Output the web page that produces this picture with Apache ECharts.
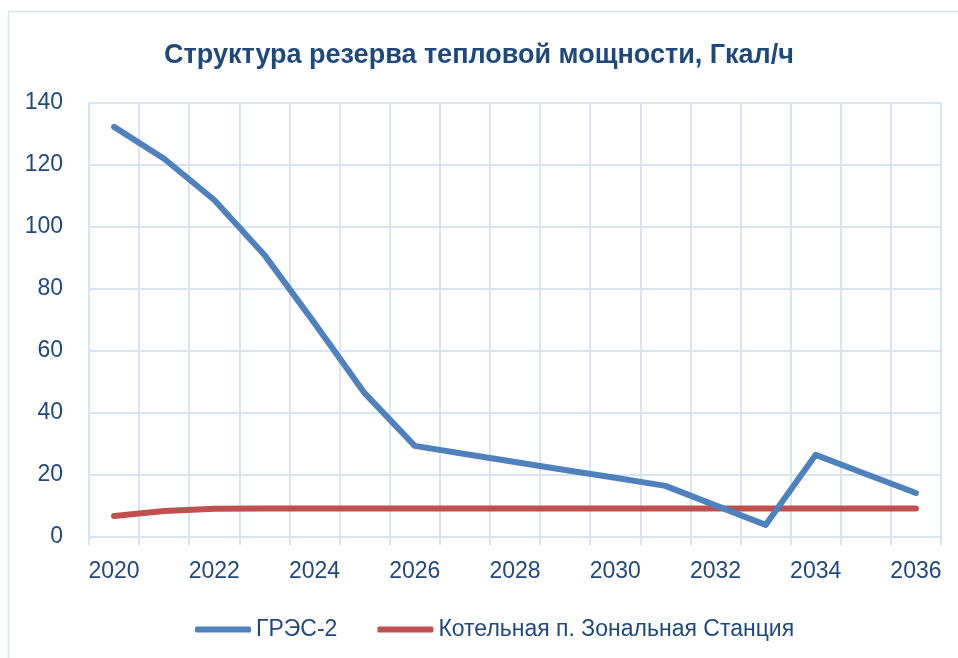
<!DOCTYPE html>
<html>
<head>
<meta charset="utf-8">
<script src="https://cdn.jsdelivr.net/npm/echarts@6/dist/echarts.min.js"></script>
<style>
  html, body { margin: 0; padding: 0; background: #fff; }
  #main { width: 958px; height: 658px; }
</style>
</head>
<body>
<div id="main"></div>
<script>
// годы и значения
var years = ['2020', '2021', '2022', '2023', '2024', '2025', '2026', '2027', '2028',
  '2029', '2030', '2031', '2032', '2033', '2034', '2035', '2036'];
var gres2 = [132.3, 122, 108.7, 91, 69, 46.4, 29.4, 26.8, 24.2, 21.6, 19.1, 16.5, 10.2, 3.9, 26.5, 20.3, 14.2];
var kotelnaya = [6.8, 8.4, 9.1, 9.2, 9.2, 9.2, 9.2, 9.2, 9.2, 9.2, 9.2, 9.2, 9.2, 9.2, 9.2, 9.2, 9.2];

var textColor = '#1F497D';
var gridColor = '#D9E4F3';
var font = '"Liberation Sans Narrow", "Arial Narrow", "Liberation Sans", sans-serif';

var chart = echarts.init(document.getElementById('main'), null, { renderer: 'canvas' });

var option = {
  backgroundColor: '#fff',
  animation: false,
  graphic: [
    {
      // рамка области диаграммы
      type: 'rect',
      shape: { x: 8.5, y: 11.5, width: 960, height: 660 },
      style: { fill: 'none', stroke: gridColor, lineWidth: 1.5 },
      silent: true
    }
  ],
  title: {
    text: 'Структура резерва тепловой мощности, Гкал/ч',
    left: 'center',
    top: 37,
    textStyle: {
      color: textColor,
      fontFamily: font,
      fontWeight: 'bold',
      fontSize: 27
    }
  },
  legend: {
    left: 190,
    top: 613,
    itemWidth: 56,
    itemHeight: 6,
    itemGap: 40,
    icon: 'roundRect',
    textStyle: { color: textColor, fontFamily: font, fontSize: 23 },
    data: ['ГРЭС-2', 'Котельная п. Зональная Станция']
  },
  grid: { left: 89, right: 17, top: 103, bottom: 121 },
  xAxis: {
    type: 'category',
    data: years,
    boundaryGap: true,
    axisLine: { show: true, lineStyle: { color: gridColor, width: 2 } },
    axisTick: { show: true, interval: 0, length: 8, lineStyle: { color: gridColor, width: 2 } },
    axisLabel: { interval: 1, margin: 23, color: textColor, fontFamily: font, fontSize: 23 },
    splitLine: { show: true, interval: 0, lineStyle: { color: gridColor, width: 2 } }
  },
  yAxis: {
    type: 'value',
    min: 0,
    max: 140,
    interval: 20,
    axisLine: { show: false },
    axisTick: { show: false },
    axisLabel: { margin: 26, color: textColor, fontFamily: font, fontSize: 23 },
    splitLine: { show: true, lineStyle: { color: gridColor, width: 2 } }
  },
  series: [
    {
      name: 'ГРЭС-2',
      type: 'line',
      data: gres2,
      showSymbol: false,
      symbol: 'none',
      lineStyle: { color: '#4F81BD', width: 6, cap: 'round', join: 'round' },
      itemStyle: { color: '#4F81BD' }
    },
    {
      name: 'Котельная п. Зональная Станция',
      type: 'line',
      data: kotelnaya,
      showSymbol: false,
      symbol: 'none',
      z: 1,
      lineStyle: { color: '#C0504D', width: 6, cap: 'round', join: 'round' },
      itemStyle: { color: '#C0504D' }
    }
  ]
};

chart.setOption(option);
</script>
</body>
</html>
